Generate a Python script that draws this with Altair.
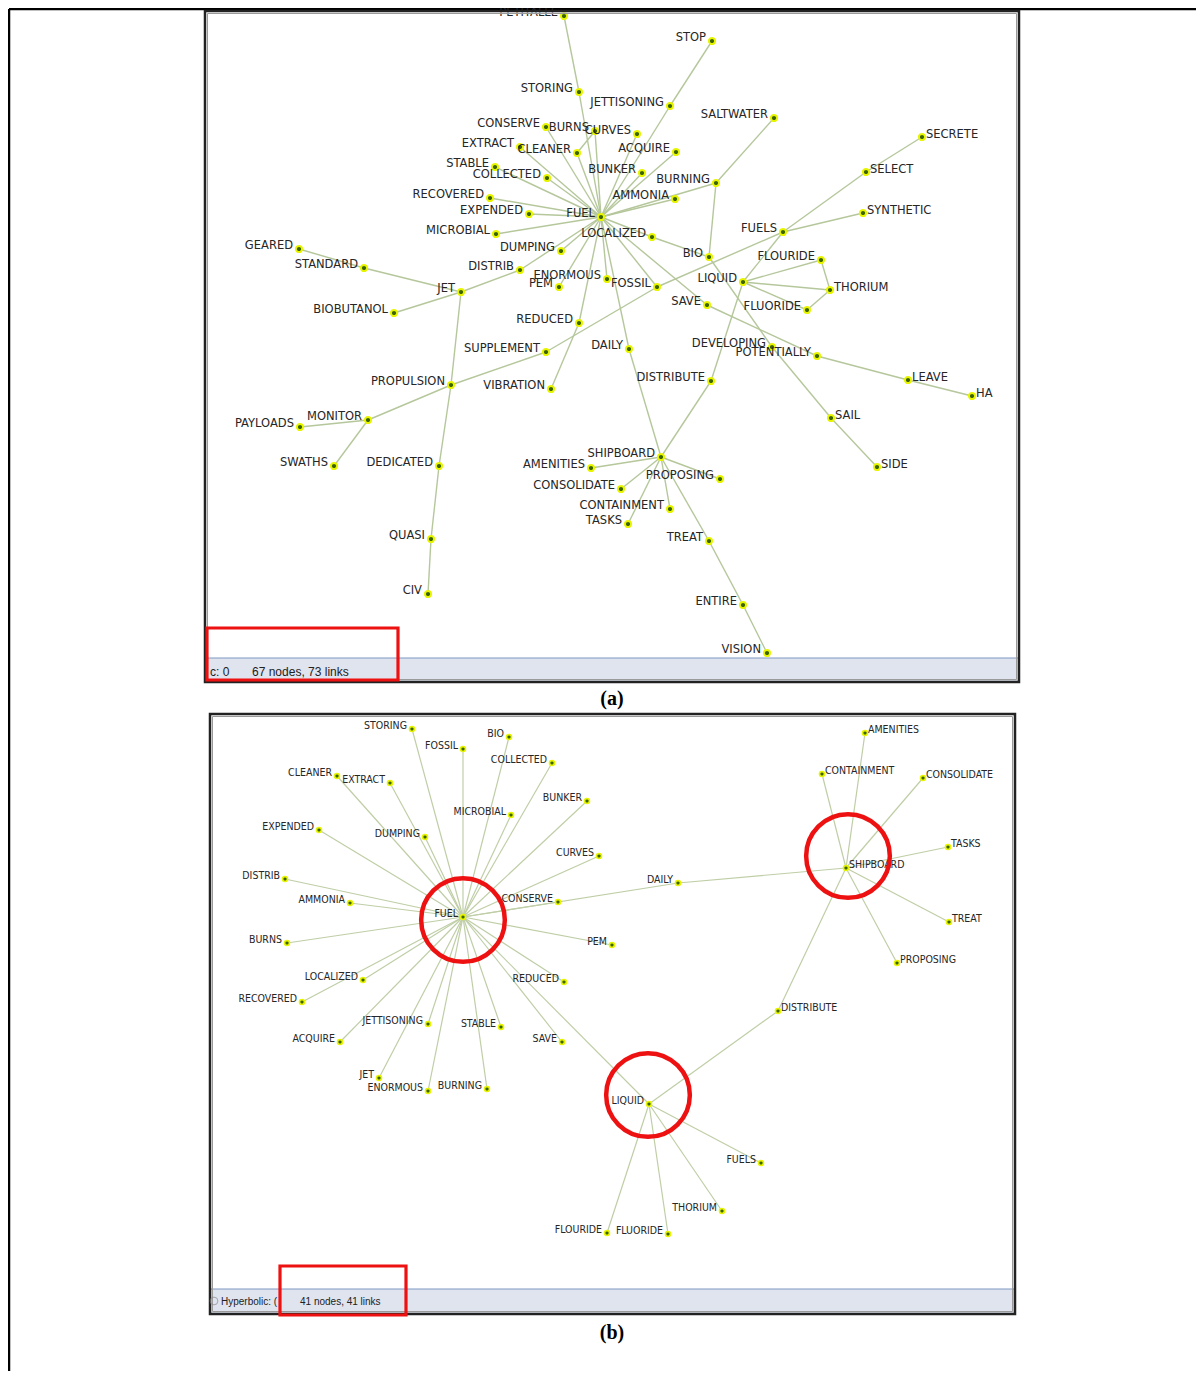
import altair as alt
import pandas as pd

# ---------------- data: panel (a) ----------------
A_NAMES = ["PETITALLE", "STOP", "STORING", "JETTISONING", "SALTWATER", "CONSERVE", "BURNS", "CURVES",
           "SECRETE", "EXTRACT", "ACQUIRE", "CLEANER", "STABLE", "SELECT", "BUNKER", "COLLECTED",
           "BURNING", "RECOVERED", "AMMONIA", "SYNTHETIC", "EXPENDED", "FUEL", "FUELS", "MICROBIAL",
           "LOCALIZED", "GEARED", "DUMPING", "BIO", "FLOURIDE", "STANDARD", "DISTRIB", "ENORMOUS",
           "LIQUID", "PEM", "FOSSIL", "THORIUM", "JET", "SAVE", "FLUORIDE", "BIOBUTANOL", "REDUCED",
           "DEVELOPING", "DAILY", "SUPPLEMENT", "POTENTIALLY", "LEAVE", "DISTRIBUTE", "PROPULSION",
           "VIBRATION", "HA", "SAIL", "MONITOR", "PAYLOADS", "SHIPBOARD", "SWATHS", "DEDICATED",
           "SIDE", "AMENITIES", "PROPOSING", "CONSOLIDATE", "CONTAINMENT", "TASKS", "QUASI", "TREAT",
           "CIV", "ENTIRE", "VISION"]
A_X = [564, 712, 579, 670, 774, 546, 595, 637, 922, 520, 676, 577, 495, 866, 642, 547, 716, 490, 675,
       863, 529, 601, 783, 496, 652, 299, 561, 709, 821, 364, 520, 607, 743, 559, 657, 830, 461, 707,
       807, 394, 579, 772, 629, 546, 817, 908, 711, 451, 551, 972, 831, 368, 300, 661, 334, 439, 877,
       591, 720, 621, 670, 628, 431, 709, 428, 743, 767]
A_Y = [16, 41, 92, 106, 118, 127, 131, 134, 137, 147, 152, 153, 167, 172, 173, 178, 183, 198, 199,
       213, 214, 217, 232, 234, 237, 249, 251, 257, 260, 268, 270, 279, 282, 287, 287, 290, 292, 305,
       310, 313, 323, 347, 349, 352, 356, 380, 381, 385, 389, 396, 418, 420, 427, 457, 466, 466, 467,
       468, 479, 489, 509, 524, 539, 541, 594, 605, 653]
A_RIGHT = ["SECRETE", "SELECT", "SYNTHETIC", "THORIUM", "LEAVE", "HA", "SAIL", "SIDE"]
A_EDGES = [("PETITALLE", "STORING"), ("STORING", "FUEL"), ("STOP", "JETTISONING"), ("JETTISONING", "FUEL"),
           ("CONSERVE", "FUEL"), ("BURNS", "FUEL"), ("CURVES", "FUEL"), ("CLEANER", "BURNS"),
           ("EXTRACT", "FUEL"), ("CLEANER", "FUEL"), ("STABLE", "FUEL"), ("COLLECTED", "FUEL"),
           ("RECOVERED", "FUEL"), ("EXPENDED", "FUEL"), ("MICROBIAL", "FUEL"), ("DUMPING", "FUEL"),
           ("DISTRIB", "FUEL"), ("ENORMOUS", "FUEL"), ("PEM", "FUEL"), ("LOCALIZED", "FUEL"),
           ("ACQUIRE", "FUEL"), ("BUNKER", "FUEL"), ("AMMONIA", "FUEL"), ("BURNING", "FUEL"),
           ("SALTWATER", "BURNING"), ("BURNING", "BIO"), ("LOCALIZED", "BIO"), ("BIO", "DEVELOPING"),
           ("DEVELOPING", "SAIL"), ("SAIL", "SIDE"), ("FUEL", "SAVE"), ("SAVE", "POTENTIALLY"),
           ("POTENTIALLY", "LEAVE"), ("LEAVE", "HA"), ("FUELS", "SELECT"), ("SELECT", "SECRETE"),
           ("FUELS", "SYNTHETIC"), ("FUELS", "LIQUID"), ("FOSSIL", "FUELS"), ("LIQUID", "FLOURIDE"),
           ("LIQUID", "THORIUM"), ("LIQUID", "FLUORIDE"), ("FLOURIDE", "THORIUM"), ("THORIUM", "FLUORIDE"),
           ("LIQUID", "DISTRIBUTE"), ("DISTRIBUTE", "SHIPBOARD"), ("FUEL", "DAILY"), ("DAILY", "SHIPBOARD"),
           ("SHIPBOARD", "AMENITIES"), ("SHIPBOARD", "CONSOLIDATE"), ("SHIPBOARD", "CONTAINMENT"),
           ("SHIPBOARD", "TASKS"), ("SHIPBOARD", "PROPOSING"), ("SHIPBOARD", "TREAT"), ("TREAT", "ENTIRE"),
           ("ENTIRE", "VISION"), ("DISTRIB", "JET"), ("JET", "STANDARD"), ("STANDARD", "GEARED"),
           ("JET", "BIOBUTANOL"), ("JET", "PROPULSION"), ("PROPULSION", "DEDICATED"), ("DEDICATED", "QUASI"),
           ("QUASI", "CIV"), ("PROPULSION", "SUPPLEMENT"), ("PROPULSION", "MONITOR"), ("MONITOR", "PAYLOADS"),
           ("MONITOR", "SWATHS"), ("SUPPLEMENT", "FOSSIL"), ("VIBRATION", "REDUCED"), ("REDUCED", "FUEL"),
           ("FOSSIL", "FUEL")]

# ---------------- data: panel (b) ----------------
B_NAMES = ["STORING", "BIO", "FOSSIL", "COLLECTED", "CLEANER", "EXTRACT", "BUNKER", "MICROBIAL",
           "EXPENDED", "DUMPING", "CURVES", "DISTRIB", "AMMONIA", "CONSERVE", "FUEL", "BURNS", "PEM",
           "LOCALIZED", "REDUCED", "RECOVERED", "JETTISONING", "STABLE", "ACQUIRE", "SAVE", "JET",
           "ENORMOUS", "BURNING", "AMENITIES", "CONTAINMENT", "CONSOLIDATE", "TASKS", "SHIPBOARD",
           "DAILY", "TREAT", "PROPOSING", "DISTRIBUTE", "LIQUID", "FUELS", "THORIUM", "FLOURIDE",
           "FLUORIDE"]
B_X = [412, 509, 463, 552, 337, 390, 587, 511, 319, 425, 599, 285, 350, 558, 463, 287, 612, 363, 564,
       302, 428, 501, 340, 562, 379, 428, 487, 865, 822, 923, 948, 846, 678, 949, 897, 778, 649, 761,
       722, 607, 668]
B_Y = [729, 737, 749, 763, 776, 783, 801, 815, 830, 837, 856, 879, 903, 902, 917, 943, 945, 980, 982,
       1002, 1024, 1027, 1042, 1042, 1078, 1091, 1089, 733, 774, 778, 847, 868, 883, 922, 963, 1011,
       1104, 1163, 1211, 1233, 1234]
B_RIGHT = ["AMENITIES", "CONTAINMENT", "CONSOLIDATE", "TASKS", "SHIPBOARD", "TREAT", "PROPOSING", "DISTRIBUTE"]
B_FUEL_SPOKES = ["STORING", "BIO", "FOSSIL", "COLLECTED", "CLEANER", "EXTRACT", "BUNKER", "MICROBIAL",
                 "EXPENDED", "DUMPING", "CURVES", "DISTRIB", "AMMONIA", "CONSERVE", "BURNS", "PEM",
                 "LOCALIZED", "REDUCED", "RECOVERED", "JETTISONING", "STABLE", "ACQUIRE", "SAVE", "JET",
                 "ENORMOUS", "BURNING", "DAILY", "LIQUID"]
B_EDGES = [("FUEL", n) for n in B_FUEL_SPOKES] + [
    ("DAILY", "SHIPBOARD"), ("SHIPBOARD", "AMENITIES"), ("SHIPBOARD", "CONTAINMENT"),
    ("SHIPBOARD", "CONSOLIDATE"), ("SHIPBOARD", "TASKS"), ("SHIPBOARD", "TREAT"),
    ("SHIPBOARD", "PROPOSING"), ("SHIPBOARD", "DISTRIBUTE"), ("DISTRIBUTE", "LIQUID"),
    ("LIQUID", "FUELS"), ("LIQUID", "THORIUM"), ("LIQUID", "FLUORIDE"), ("LIQUID", "FLOURIDE")]

# highlighted hubs in (b): circle centres
HUB_NAMES = ["FUEL", "SHIPBOARD", "LIQUID"]
HUB_X = [463, 848, 648]
HUB_Y = [920, 856, 1095]

# status-bar texts
STATUS_TEXT = ["c: 0", "67 nodes, 73 links", "Hyperbolic: (", "41 nodes, 41 links"]
CAPTIONS = ["(a)", "(b)"]

# ---------------- layout (page pixel space) ----------------
XS = alt.Scale(domain=[8, 1196], nice=False, zero=False)
YS = alt.Scale(domain=[8, 1371], nice=False, zero=False, reverse=True)


def enc(**kw):
    out = {}
    for ch, f in kw.items():
        if ch == "x":
            out[ch] = alt.X(f, type="quantitative", scale=XS, axis=None)
        elif ch == "y":
            out[ch] = alt.Y(f, type="quantitative", scale=YS, axis=None)
        elif ch == "x2":
            out[ch] = alt.X2(f)
        elif ch == "y2":
            out[ch] = alt.Y2(f)
    return out


def nodes_df(names, xs, ys, right):
    return pd.DataFrame({"name": names, "x": xs, "y": ys,
                         "side": ["R" if n in right else "L" for n in names]})


def edges_df(nodes, edges):
    pos = {r.name: (r.x, r.y) for r in nodes.itertuples()}
    return pd.DataFrame([{"x": pos[a][0], "y": pos[a][1], "x2": pos[b][0], "y2": pos[b][1]}
                         for a, b in edges])


na = nodes_df(A_NAMES, A_X, A_Y, A_RIGHT)
nb = nodes_df(B_NAMES, B_X, B_Y, B_RIGHT)
ea = edges_df(na, A_EDGES)
eb = edges_df(nb, B_EDGES)

layers = []

# outer figure border
border = pd.DataFrame({"x": [9, 9], "y": [9, 9], "x2": [9, 1204], "y2": [1380, 9]})
layers.append(alt.Chart(border).mark_rule(color="#000", strokeWidth=2.5).encode(**enc(x="x", y="y", x2="x2", y2="y2")))

# status bands
bands = pd.DataFrame({"x": [206, 211], "x2": [1018, 1014], "y": [658, 1289], "y2": [681, 1313]})
layers.append(alt.Chart(bands).mark_rect(fill="#dfe4ef", stroke=None).encode(**enc(x="x", x2="x2", y="y", y2="y2")))
layers.append(alt.Chart(bands).mark_rule(color="#7f97c4", strokeWidth=1.2).encode(**enc(x="x", x2="x2", y="y")))

# edges
layers.append(alt.Chart(ea).mark_rule(color="#b5c79b", strokeWidth=1.4).encode(**enc(x="x", y="y", x2="x2", y2="y2")))
layers.append(alt.Chart(eb).mark_rule(color="#bfcea6", strokeWidth=1.2).encode(**enc(x="x", y="y", x2="x2", y2="y2")))

# nodes
layers.append(alt.Chart(na).mark_circle(size=38, fill="#3b6300", opacity=1, stroke="#e8f500", strokeWidth=2)
              .encode(**enc(x="x", y="y")))
layers.append(alt.Chart(nb).mark_circle(size=24, fill="#3b6300", opacity=1, stroke="#e8f500", strokeWidth=1.7)
              .encode(**enc(x="x", y="y")))

# labels (a)
FA = "DejaVu Sans"
FB = "DejaVu Sans Condensed, DejaVu Sans"
layers.append(alt.Chart(na).transform_filter(alt.datum.side == "L")
              .mark_text(align="right", baseline="middle", dx=-6, dy=-3, font=FA, fontSize=11.5, color="#262626")
              .encode(text="name:N", **enc(x="x", y="y")))
layers.append(alt.Chart(na).transform_filter(alt.datum.side == "R")
              .mark_text(align="left", baseline="middle", dx=4, dy=-2.5, font=FA, fontSize=11.5, color="#262626")
              .encode(text="name:N", **enc(x="x", y="y")))
# labels (b)
layers.append(alt.Chart(nb).transform_filter(alt.datum.side == "L")
              .mark_text(align="right", baseline="middle", dx=-5, dy=-3, font=FB, fontSize=10.5, color="#262626")
              .encode(text="name:N", **enc(x="x", y="y")))
layers.append(alt.Chart(nb).transform_filter(alt.datum.side == "R")
              .mark_text(align="left", baseline="middle", dx=3, dy=-3, font=FB, fontSize=10.5, color="#262626")
              .encode(text="name:N", **enc(x="x", y="y")))

# mask above panel (a) frame (label clipped at top)
mask = pd.DataFrame({"x": [206], "x2": [1018], "y": [10], "y2": [12.5]})
layers.append(alt.Chart(mask).mark_rect(fill="white").encode(**enc(x="x", x2="x2", y="y", y2="y2")))

# panel frames
frames = pd.DataFrame({"x": [205, 210], "x2": [1019, 1015], "y": [11, 714], "y2": [682, 1314]})
layers.append(alt.Chart(frames).mark_rect(fill=None, stroke="#222", strokeWidth=2.5).encode(**enc(x="x", x2="x2", y="y", y2="y2")))
frames_in = pd.DataFrame({"x": [207.5, 212.5], "x2": [1016.5, 1012.5], "y": [13.5, 716.5], "y2": [679.5, 1311.5]})
layers.append(alt.Chart(frames_in).mark_rect(fill=None, stroke="#9a9a9a", strokeWidth=1).encode(**enc(x="x", x2="x2", y="y", y2="y2")))

# status texts
st = pd.DataFrame({"t": STATUS_TEXT, "x": [210, 252, 221, 300], "y": [672, 672, 1302, 1302],
                   "s": [12, 12, 10, 10]})
layers.append(alt.Chart(st).mark_text(align="left", baseline="middle", font="Liberation Sans", color="#222")
              .encode(text="t:N", size=alt.Size("s:Q", scale=None, legend=None), **enc(x="x", y="y")))
radio = pd.DataFrame({"x": [214], "y": [1301]})
layers.append(alt.Chart(radio).mark_point(shape="circle", filled=False, size=60, color="#888", strokeWidth=1)
              .encode(**enc(x="x", y="y")))

# red highlight rectangles
reds = pd.DataFrame({"x": [207, 280], "x2": [398, 406], "y": [628, 1266], "y2": [680, 1315]})
layers.append(alt.Chart(reds).mark_rect(fill=None, stroke="#ee1111", strokeWidth=3.2).encode(**enc(x="x", x2="x2", y="y", y2="y2")))

# red hub circles
hubs = pd.DataFrame({"name": HUB_NAMES, "x": HUB_X, "y": HUB_Y})
layers.append(alt.Chart(hubs).mark_point(shape="circle", filled=False, size=7000, color="#ee1111", strokeWidth=4.5, opacity=1)
              .encode(**enc(x="x", y="y")))

# captions
cap = pd.DataFrame({"t": CAPTIONS, "x": [612, 612], "y": [699, 1333]})
layers.append(alt.Chart(cap).mark_text(align="center", baseline="middle", font="Liberation Serif", fontWeight="bold",
                                        fontSize=20, color="#000")
              .encode(text="t:N", **enc(x="x", y="y")))

chart = alt.layer(*layers).properties(
    width=1188, height=1363, padding=0, autosize=alt.AutoSizeParams(type="none")
).configure_view(stroke=None)

chart.save("out.html", embed_options={"renderer": "svg", "actions": False})
